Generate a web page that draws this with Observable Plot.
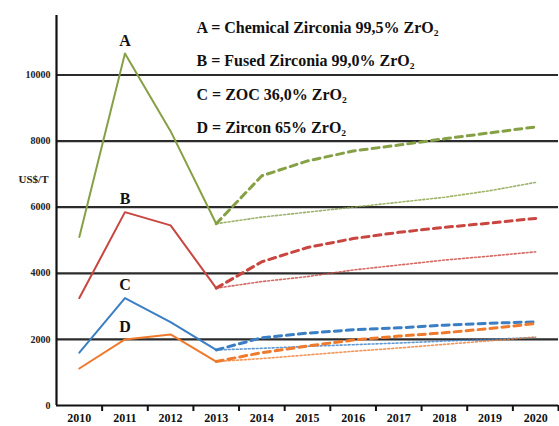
<!DOCTYPE html>
<html>
<head>
<meta charset="utf-8">
<script src="https://cdn.jsdelivr.net/npm/d3@7"></script>
<script src="https://cdn.jsdelivr.net/npm/@observablehq/plot@0.6"></script>
<style>
  html, body { margin: 0; padding: 0; background: #fff; }
  #chart svg { display: block; }
  .it { font-style: italic; }
</style>
</head>
<body>
<div id="chart"></div>
<script>
const histYears = [2010, 2011, 2012, 2013];
const foreYears = [2013, 2014, 2015, 2016, 2017, 2018, 2019, 2020];
const yearLabels = [2010, 2011, 2012, 2013, 2014, 2015, 2016, 2017, 2018, 2019, 2020];
const yTicks = [0, 2000, 4000, 6000, 8000, 10000];

const histA = [5100, 10650, 8300, 5500];
const histB = [3250, 5850, 5450, 3550];
const histC = [1600, 3250, 2520, 1680];
const histD = [1120, 2000, 2150, 1330];

const highA = [5500, 6950, 7400, 7700, 7880, 8070, 8250, 8430];
const highB = [3550, 4350, 4780, 5050, 5240, 5390, 5520, 5660];
const highC = [1680, 2050, 2190, 2290, 2350, 2430, 2490, 2530];
const highD = [1330, 1600, 1800, 1980, 2100, 2200, 2330, 2480];

const lowA = [5500, 5700, 5850, 6000, 6150, 6300, 6500, 6750];
const lowB = [3550, 3750, 3900, 4100, 4250, 4400, 4520, 4650];
const lowC = [1680, 1730, 1790, 1840, 1890, 1950, 2000, 2060];
const lowD = [1330, 1420, 1530, 1640, 1740, 1850, 1960, 2070];

const seriesKeys = ["A", "B", "C", "D"];
const seriesColors = ["#86a046", "#c8463f", "#3a7ec4", "#ef7a2c"];
const legendNames = ["Chemical Zirconia", "Fused Zirconia", "ZOC", "Zircon"];
const legendPct = ["99,5%", "99,0%", "36,0%", "65%"];
const yUnit = "US$/T";

const hist = [histA, histB, histC, histD];
const high = [highA, highB, highC, highD];
const low = [lowA, lowB, lowC, lowD];

const toRows = (years, arrs) => arrs.flatMap((vals, s) =>
  vals.map((v, i) => ({year: years[i], value: v, key: seriesKeys[s]})));
const histRows = toRows(histYears, hist);
const highRows = toRows(foreYears, high);
const lowRows = toRows(foreYears, low);
const peakRows = histRows.filter(d => d.year === 2011);
const bounds = yearLabels.map(y => y + 0.5);

const serif = "Liberation Serif, Times New Roman, serif";

const legendMarks = seriesKeys.map((k, i) =>
  Plot.text([`${k} = ${legendNames[i]} ${legendPct[i]} ZrO₂`], {
    frameAnchor: "top-left", lineAnchor: "middle", dx: 140, dy: 12 + i * 33.5, text: d => d,
    fontSize: 16, fontWeight: "bold", fill: "#111", textAnchor: "start",
    ariaLabel: "legend-" + k
  }));

const chart = Plot.plot({
  width: 559,
  height: 426,
  marginLeft: 56,
  marginRight: 1,
  marginTop: 15,
  marginBottom: 21,
  style: {fontFamily: serif, background: "#fff"},
  x: {type: "linear", domain: [2009.5, 2020.5], axis: null},
  y: {domain: [0, 11800], axis: null},
  color: {domain: seriesKeys, range: seriesColors},
  marks: [
    Plot.ruleY(yTicks.filter(v => v > 0), {stroke: "#2b2b2b", strokeWidth: 2.2}),
    Plot.line(lowRows, {x: "year", y: "value", z: "key", stroke: "key", strokeWidth: 1.6, strokeDasharray: "2,2", strokeOpacity: 0.8}),
    Plot.line(highRows, {x: "year", y: "value", z: "key", stroke: "key", strokeWidth: 3, strokeDasharray: "7,5"}),
    Plot.line(histRows, {x: "year", y: "value", z: "key", stroke: "key", strokeWidth: 2}),
    Plot.ruleX([2009.5], {stroke: "#111", strokeWidth: 2.2}),
    Plot.ruleY([0], {stroke: "#111", strokeWidth: 2.2}),
    Plot.axisX(bounds, {tickSize: 6, tickFormat: () => "", label: null, stroke: "#111", strokeWidth: 2}),
    Plot.axisX(yearLabels, {tickSize: 0, tickPadding: 8, label: null, tickFormat: d => String(d), fontSize: 12, fontWeight: "bold", fill: "#111"}),
    Plot.axisY(yTicks, {tickSize: 0, tickPadding: 6, label: null, tickFormat: d => String(d), fontSize: 10, fontWeight: "bold", fill: "#222"}),
    Plot.text(peakRows, {x: "year", y: "value", text: "key", dy: -13, fontSize: 16, fontWeight: "bold", fill: "#111"}),
    Plot.text([yUnit], {frameAnchor: "top-left", lineAnchor: "middle", dx: -23, dy: 164, text: d => d, fontSize: 11, fontWeight: "bold", fill: "#222", textAnchor: "middle"}),
    ...legendMarks
  ]
});

// legend styling: italic names and subscript 2
seriesKeys.forEach((k, i) => {
  d3.select(chart).selectAll(`g[aria-label="legend-${k}"] text`).each(function() {
    const el = d3.select(this);
    el.text(null);
    el.append("tspan").text(`${k} = `);
    el.append("tspan").attr("class", "it").style("font-style", "italic").text(legendNames[i]);
    el.append("tspan").text(` ${legendPct[i]} ZrO`);
    el.append("tspan").attr("font-size", 10).attr("dy", 3).text("2");
  });
});

document.getElementById("chart").appendChild(chart);
</script>
</body>
</html>
